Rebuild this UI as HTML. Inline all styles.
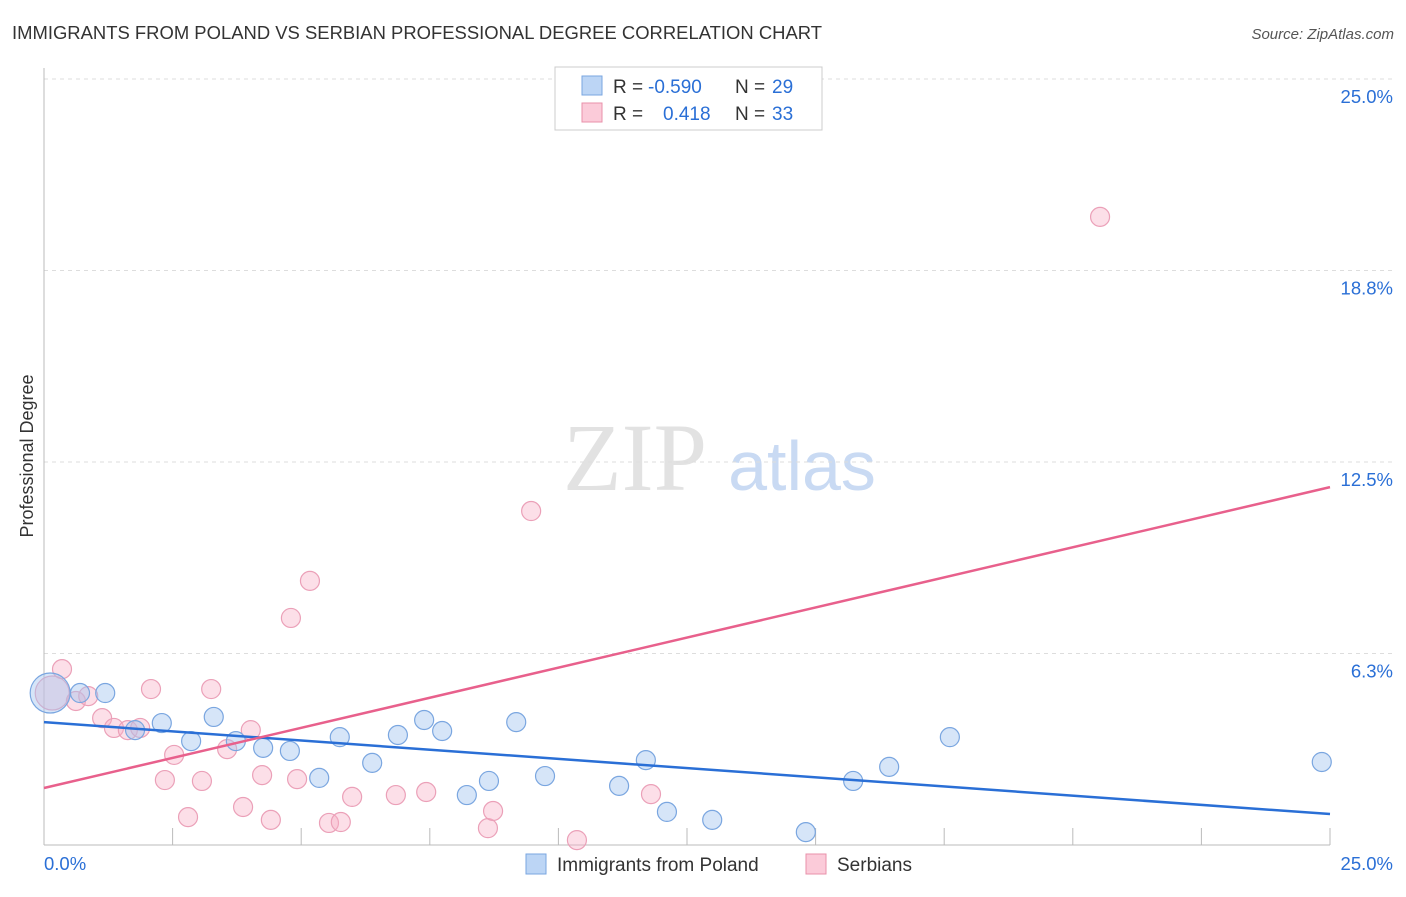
<!DOCTYPE html>
<html><head><meta charset="utf-8"><style>
body{margin:0;background:#fff;font-family:"Liberation Sans",sans-serif;}
svg text{font-family:"Liberation Sans",sans-serif;}
</style></head><body>
<svg id="c" width="1406" height="892" xmlns="http://www.w3.org/2000/svg">
<text x="12" y="39" font-size="18" fill="#333" textLength="810" lengthAdjust="spacingAndGlyphs">IMMIGRANTS FROM POLAND VS SERBIAN PROFESSIONAL DEGREE CORRELATION CHART</text>
<text x="1394" y="39" font-size="15" fill="#555" text-anchor="end" font-style="italic">Source: ZipAtlas.com</text>
<text x="33" y="456" font-size="18" fill="#333" text-anchor="middle" transform="rotate(-90 33 456)">Professional Degree</text>
<g><text x="635" y="490" font-size="96" fill="#e2e2e2" text-anchor="middle" font-family="Liberation Serif" style="font-family:'Liberation Serif',serif">ZIP</text><text x="802" y="490" font-size="70" fill="#c9daf3" text-anchor="middle">atlas</text></g>
<g id="grid"></g><g id="marks"></g><g id="trend"></g>
<g>
<rect x="555" y="67" width="267" height="63" fill="#fff" stroke="#ccc"/>
<rect x="582" y="76" width="20" height="19" fill="#bcd5f5" stroke="#7aa6e0"/>
<rect x="582" y="103" width="20" height="19" fill="#fbcbd9" stroke="#e890aa"/>
<text y="93" font-size="19" fill="#333"><tspan x="613">R =</tspan><tspan x="648" fill="#2a6fd6">-0.590</tspan><tspan x="735">N =</tspan><tspan x="772" fill="#2a6fd6">29</tspan></text>
<text y="120" font-size="19" fill="#333"><tspan x="613">R =</tspan><tspan x="663" fill="#2a6fd6">0.418</tspan><tspan x="735">N =</tspan><tspan x="772" fill="#2a6fd6">33</tspan></text>
</g>
<g>
<rect x="526" y="854" width="20" height="20" fill="#bcd5f5" stroke="#7aa6e0"/>
<text x="557" y="871" font-size="19" fill="#333">Immigrants from Poland</text>
<rect x="806" y="854" width="20" height="20" fill="#fbcbd9" stroke="#e890aa"/>
<text x="837" y="871" font-size="19" fill="#333">Serbians</text>
</g>
</svg>
<script>
const yTicks=[6.25,12.5,18.75,25];
const yTickLabels=["6.3%","12.5%","18.8%","25.0%"];
const xTickLabels=["0.0%","25.0%"];
const polandX=[0.12,0.70,1.19,2.29,1.77,2.86,3.30,3.73,4.26,4.78,5.35,5.75,6.38,6.88,7.39,7.74,8.22,8.65,9.18,9.74,11.18,11.70,12.11,12.99,14.81,15.73,16.43,17.61,24.84];
const polandY=[4.96,4.96,4.96,3.98,3.75,3.39,4.18,3.39,3.17,3.07,2.19,3.52,2.68,3.59,4.08,3.72,1.63,2.09,4.01,2.25,1.93,2.77,1.08,0.82,0.42,2.09,2.55,3.52,2.71];
const serbX=[0.35,0.16,0.62,0.86,1.13,1.36,1.63,1.87,2.08,2.35,2.53,2.80,3.07,3.25,3.56,3.87,4.02,4.24,4.41,4.80,4.92,5.17,5.54,5.77,5.99,6.84,7.43,8.63,8.73,9.47,10.36,11.80,20.53];
const serbY=[5.74,4.96,4.70,4.86,4.14,3.82,3.75,3.82,5.09,2.12,2.94,0.91,2.09,5.09,3.13,1.24,3.75,2.28,0.82,7.41,2.15,8.62,0.72,0.75,1.57,1.63,1.73,0.55,1.11,10.90,0.16,1.66,20.50];
const polandTrend=[4.01,1.01];
const serbTrend=[1.86,11.68];
const NS="http://www.w3.org/2000/svg";
const X0=44,X1=1330,Y0=845,Y1=79;
const sx=v=>X0+v/25*(X1-X0);
const sy=v=>Y0-v/25*(Y0-Y1);
function mk(t,a,p){const e=document.createElementNS(NS,t);for(const k in a)e.setAttribute(k,a[k]);p.appendChild(e);return e;}
const grid=document.getElementById('grid');
yTicks.forEach((t,i)=>{
 const l=mk('line',{x1:X0,x2:1395,y1:sy(t),y2:sy(t),stroke:'#ddd','stroke-dasharray':'4,4'},grid);
 
 
 const tx=mk('text',{x:1393,y:sy(t)+24,'font-size':18.5,fill:'#2a6fd6','text-anchor':'end'},grid);
 tx.textContent=yTickLabels[i];
 
 
});
const ax=mk('line',{x1:X0,x2:X0,y1:68,y2:Y0,stroke:'#bbb'},grid);


const bx=mk('line',{x1:X0,x2:X1,y1:Y0,y2:Y0,stroke:'#bbb'},grid);


for(let i=1;i<=10;i++){const x=sx(i*2.5);const tk=mk('line',{x1:x,x2:x,y1:828,y2:Y0,stroke:'#bbb'},grid);
 
 }
[[44,xTickLabels[0]],[1393,xTickLabels[1]]].forEach(([x,s],i)=>{const t=mk('text',{x:x,y:870,'font-size':18.5,fill:'#2a6fd6','text-anchor':i==1?'end':'start'},grid);t.textContent=s;
 
 });
const marks=document.getElementById('marks');
serbX.forEach((v,i)=>{const c=mk('circle',{cx:sx(v),cy:sy(serbY[i]),r:i==1?17:9.5,fill:'rgba(248,175,198,0.4)',stroke:'#eba0b8','stroke-width':1.2},marks);
 
 });
polandX.forEach((v,i)=>{const c=mk('circle',{cx:sx(v),cy:sy(polandY[i]),r:i==0?20:9.5,fill:'rgba(165,198,240,0.45)',stroke:'#7aa6e0','stroke-width':1.2},marks);
 
 });
const tr=document.getElementById('trend');
const l1=mk('line',{x1:sx(0),x2:sx(25),y1:sy(polandTrend[0]),y2:sy(polandTrend[1]),stroke:'#2a6fd6','stroke-width':2.5},tr);


const l2=mk('line',{x1:sx(0),x2:sx(25),y1:sy(serbTrend[0]),y2:sy(serbTrend[1]),stroke:'#e8608c','stroke-width':2.5},tr);


</script>
</body></html>
